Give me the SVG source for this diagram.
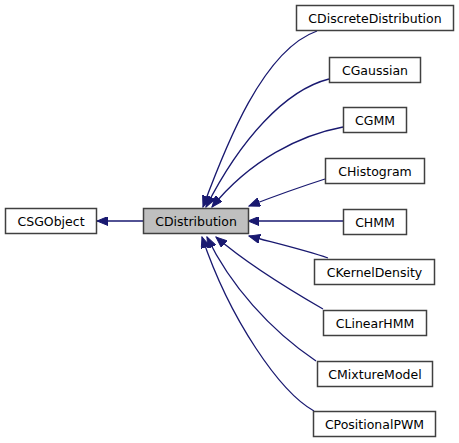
<svg xmlns="http://www.w3.org/2000/svg" width="459" height="443" viewBox="0 0 459 443">
<style>
.n rect{fill:#ffffff;stroke:#404040;stroke-width:1.5}
.n.cur rect{fill:#bfbfbf}
.n text{font-family:"DejaVu Sans",sans-serif;font-size:12.5px;fill:#000;text-anchor:middle}
.e path{fill:none;stroke:#191970;stroke-width:1.3;marker-end:url(#arr)}
</style>
<defs>
<marker id="arr" markerUnits="userSpaceOnUse" markerWidth="12" markerHeight="9" viewBox="0 0 12 9" refX="11" refY="4.5" orient="auto">
<path d="M0,0 L11,4.5 L0,9 Z" fill="#191970" stroke="#191970" stroke-width="1"/>
</marker>
</defs>
<rect width="459" height="443" fill="#ffffff"/>
<g id="edges" class="e">
<path d="M143,221 L97,221"/>
<path d="M317,31 C263,50 226,145 203,207"/>
<path d="M329,79 C285,90 240,140 206,207"/>
<path d="M343,127 C300,135 250,160 212,207"/>
<path d="M325,179 C300,187 275,196 249,206"/>
<path d="M343,221 L248,221"/>
<path d="M328,258 C305,250 275,243 249,236"/>
<path d="M323,309 C290,290 245,262 216,237"/>
<path d="M316,361 C270,330 230,285 207,237"/>
<path d="M314,411 C280,392 230,320 202,237"/>
</g>
<g id="CSGObject" class="n"><rect x="5.5" y="208.5" width="91" height="25"/><text x="51" y="225.5">CSGObject</text></g>
<g id="CDistribution" class="n cur"><rect x="143.5" y="208.5" width="105" height="25"/><text x="196" y="225.5">CDistribution</text></g>
<g id="CDiscreteDistribution" class="n"><rect x="296.5" y="5.5" width="157" height="25"/><text x="375" y="22.5">CDiscreteDistribution</text></g>
<g id="CGaussian" class="n"><rect x="329.5" y="57.5" width="91" height="25"/><text x="375" y="74.5">CGaussian</text></g>
<g id="CGMM" class="n"><rect x="343.5" y="107.5" width="63" height="25"/><text x="375" y="124.5">CGMM</text></g>
<g id="CHistogram" class="n"><rect x="325.5" y="158.5" width="99" height="25"/><text x="375" y="175.5">CHistogram</text></g>
<g id="CHMM" class="n"><rect x="343.5" y="209.5" width="63" height="25"/><text x="375" y="226.5">CHMM</text></g>
<g id="CKernelDensity" class="n"><rect x="314.5" y="259.5" width="120" height="25"/><text x="374.5" y="276.5">CKernelDensity</text></g>
<g id="CLinearHMM" class="n"><rect x="323.5" y="310.5" width="103" height="25"/><text x="375" y="327.5">CLinearHMM</text></g>
<g id="CMixtureModel" class="n"><rect x="317.5" y="361.5" width="115" height="25"/><text x="375" y="378.5">CMixtureModel</text></g>
<g id="CPositionalPWM" class="n"><rect x="313.5" y="411.5" width="122" height="25"/><text x="374.5" y="428.5">CPositionalPWM</text></g>
</svg>
